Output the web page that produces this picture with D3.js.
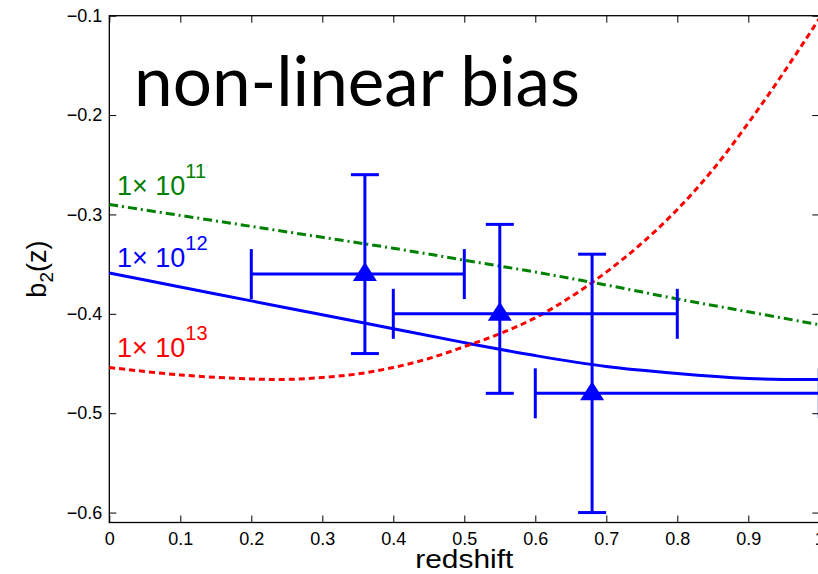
<!DOCTYPE html>
<html>
<head>
<meta charset="utf-8">
<script src="https://cdn.jsdelivr.net/npm/d3@7"></script>
<style>
  body { margin: 0; background: #fff; }
  svg { display: block; }
</style>
</head>
<body>
<div id="chart"></div>
<script>
// curves (halo mass)
let zGreen = [0, 0.1, 0.2, 0.3, 0.4, 0.5, 0.6, 0.7, 0.8, 0.9, 1.0];
let bGreen = [-0.290, -0.301, -0.312, -0.323, -0.334, -0.346, -0.358, -0.371, -0.385, -0.398, -0.411];

let zBlue = [0, 0.1, 0.2, 0.3, 0.4, 0.5, 0.6, 0.7, 0.8, 0.9, 0.95, 1.0];
let bBlue = [-0.359, -0.373, -0.387, -0.401, -0.415, -0.429, -0.442, -0.453, -0.460, -0.465, -0.466, -0.466];

let zRed = [0, 0.1, 0.2, 0.25, 0.3, 0.35, 0.4, 0.45, 0.5, 0.55, 0.6, 0.65, 0.7, 0.75, 0.8, 0.85, 0.9, 0.95, 1.0];
let bRed = [-0.454, -0.4615, -0.4655, -0.466, -0.464, -0.4605, -0.454, -0.445, -0.433, -0.420, -0.404, -0.383, -0.358, -0.329, -0.295, -0.255, -0.208, -0.157, -0.103];

// measurements with error bars
let pointZ = [0.36, 0.55, 0.68];
let pointB = [-0.36, -0.40, -0.48];
let zLow = [0.20, 0.40, 0.60];
let zHigh = [0.50, 0.80, 1.00];
let bLow = [-0.44, -0.48, -0.60];
let bHigh = [-0.26, -0.31, -0.34];

let xTicks = [0, 0.1, 0.2, 0.3, 0.4, 0.5, 0.6, 0.7, 0.8, 0.9, 1];
let yTicks = [-0.6, -0.5, -0.4, -0.3, -0.2, -0.1];

let margin = {top: 15.7, right: -1.3, bottom: 51.5, left: 109.3},
    width = 818 - margin.left - margin.right,
    height = 574 - margin.top - margin.bottom;

let svg = d3.select("#chart").append("svg")
        .attr("width", 818)
        .attr("height", 574);

let g = svg.append("g")
        .attr("transform", "translate(" + margin.left + "," + margin.top + ")");

let x = d3.scaleLinear().domain([0, 1]).range([0, width]);
let y = d3.scaleLinear().domain([-0.61, -0.1]).range([height, 0]);

let fontAxis = "'Liberation Sans', Arial, Helvetica, sans-serif";
let tickLen = 7;

// axes, MATLAB style: ticks pointing inward on every side
function fmt(d) {
  if (d === 0) return "0";
  if (d === 1) return "1";
  return d3.format(".1f")(d);
}

let xAxis = d3.axisBottom(x).tickValues(xTicks).tickSize(-tickLen).tickPadding(10).tickFormat(fmt);
let yAxis = d3.axisLeft(y).tickValues(yTicks).tickSize(-tickLen).tickPadding(7).tickFormat(fmt);
let xTop = d3.axisTop(x).tickValues(xTicks).tickSize(-tickLen).tickFormat("");
let yRight = d3.axisRight(y).tickValues(yTicks).tickSize(-tickLen).tickFormat("");

g.append("g").attr("transform", "translate(0," + height + ")").call(xAxis);
g.append("g").call(yAxis);
g.append("g").call(xTop);
g.append("g").attr("transform", "translate(" + width + ",0)").call(yRight);

g.selectAll(".domain").remove();
g.selectAll(".tick line").attr("stroke", "#000").attr("stroke-width", 1);
g.selectAll(".tick text")
        .attr("fill", "#000")
        .style("font-family", fontAxis)
        .style("font-size", "18px");

g.append("rect")
        .attr("x", 0).attr("y", 0)
        .attr("width", width).attr("height", height)
        .attr("fill", "none")
        .attr("stroke", "#000")
        .attr("stroke-width", 1.3);

// model curves
let line = d3.line()
        .x(function(d) { return x(d[0]); })
        .y(function(d) { return y(d[1]); })
        .curve(d3.curveCatmullRom.alpha(0.5));

function addCurve(zs, bs, color, dash) {
  let pts = zs.map(function(z, i) { return [z, bs[i]]; });
  g.append("path")
          .datum(pts)
          .attr("fill", "none")
          .attr("stroke", color)
          .attr("stroke-width", 3)
          .attr("stroke-dasharray", dash)
          .attr("d", line);
}

addCurve(zGreen, bGreen, "#008000", "9,4,2,4");
addCurve(zBlue, bBlue, "#0000ff", null);
addCurve(zRed, bRed, "#ff0000", "6,4");

// error bars
let capH = 25, capV = 14;
let eb = g.append("g").attr("stroke", "#0000ff").attr("stroke-width", 3).attr("fill", "none");
for (let i = 0; i < pointZ.length; i++) {
  let cx = x(pointZ[i]), cy = y(pointB[i]);
  eb.append("line").attr("x1", x(zLow[i])).attr("x2", x(zHigh[i])).attr("y1", cy).attr("y2", cy);
  eb.append("line").attr("x1", x(zLow[i])).attr("x2", x(zLow[i])).attr("y1", cy - capH).attr("y2", cy + capH);
  eb.append("line").attr("x1", x(zHigh[i])).attr("x2", x(zHigh[i])).attr("y1", cy - capH).attr("y2", cy + capH);
  eb.append("line").attr("x1", cx).attr("x2", cx).attr("y1", y(bLow[i])).attr("y2", y(bHigh[i]));
  eb.append("line").attr("x1", cx - capV).attr("x2", cx + capV).attr("y1", y(bLow[i])).attr("y2", y(bLow[i]));
  eb.append("line").attr("x1", cx - capV).attr("x2", cx + capV).attr("y1", y(bHigh[i])).attr("y2", y(bHigh[i]));
}

g.selectAll(".marker")
        .data(pointZ)
        .enter()
        .append("path")
        .attr("class", "marker")
        .attr("d", "M0,-12L12,7L-12,7Z")
        .attr("transform", function(d, i) { return "translate(" + x(d) + "," + y(pointB[i]) + ")"; })
        .attr("fill", "#0000ff");

// curve labels
function massLabel(px, py, exp, color) {
  let t = svg.append("text")
          .attr("x", px).attr("y", py)
          .attr("fill", color)
          .style("font-family", fontAxis)
          .style("font-size", "27px");
  t.append("tspan").text("1\u00d7 10");
  t.append("tspan").attr("dy", -17).style("font-size", "20px").text(exp);
}
massLabel(117, 195, "11", "#008000");
massLabel(117, 267, "12", "#0000ff");
massLabel(117, 357, "13", "#ff0000");

// title
svg.append("text")
        .attr("x", 134).attr("y", 106)
        .attr("textLength", 446)
        .attr("lengthAdjust", "spacingAndGlyphs")
        .style("font-family", "Lato, 'Open Sans', sans-serif")
        .style("font-size", "70px")
        .attr("fill", "#000")
        .text("non-linear bias");

// axis labels
svg.append("text")
        .attr("x", margin.left + x(0.5)).attr("y", 568)
        .attr("text-anchor", "middle")
        .attr("textLength", 98)
        .attr("lengthAdjust", "spacingAndGlyphs")
        .style("font-family", fontAxis)
        .style("font-size", "26px")
        .attr("fill", "#000")
        .text("redshift");

let yl = svg.append("text")
        .attr("transform", "translate(46," + (margin.top + height / 2) + ") rotate(-90)")
        .attr("text-anchor", "middle")
        .style("font-family", fontAxis)
        .style("font-size", "27px")
        .attr("fill", "#000");
yl.append("tspan").text("b");
yl.append("tspan").attr("dy", 7).style("font-size", "19px").text("2");
yl.append("tspan").attr("dy", -7).text("(z)");
</script>
</body>
</html>
